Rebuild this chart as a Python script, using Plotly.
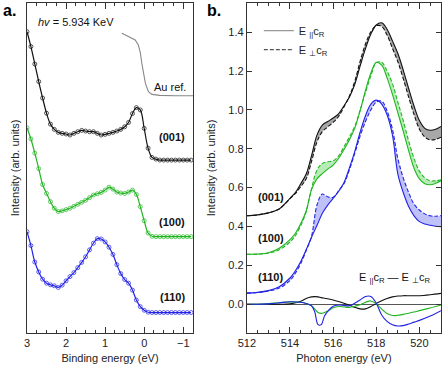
import plotly.graph_objects as go
from plotly.subplots import make_subplots

# ---- panel a: valence band spectra (binding energy, arb. units) ----
be = [3.0, 2.9, 2.8, 2.7, 2.6, 2.5, 2.4, 2.3, 2.2, 2.1, 2.0, 1.9, 1.8, 1.7, 1.6,
      1.5, 1.4, 1.3, 1.2, 1.1, 1.0, 0.9, 0.8, 0.7, 0.6, 0.5, 0.4, 0.3, 0.2, 0.1,
      0.0, -0.1, -0.2, -0.3, -0.4, -0.5, -0.6, -0.7, -0.8, -0.9, -1.0, -1.1, -1.2]
vb_001 = [9.13, 8.68, 8.15, 7.62, 7.12, 6.66, 6.33, 6.17, 6.08, 6.05, 6.03, 6.0, 6.05,
          6.1, 6.14, 6.12, 6.1, 6.1, 6.05, 6.0, 6.02, 6.05, 6.08, 6.12, 6.17, 6.25,
          6.38, 6.65, 6.83, 6.76, 6.2, 5.6, 5.32, 5.27, 5.24, 5.24, 5.24, 5.24, 5.24,
          5.24, 5.24, 5.24, 5.24]
vb_100 = [6.22, 5.88, 5.45, 4.98, 4.5, 4.23, 3.98, 3.78, 3.68, 3.7, 3.74, 3.78, 3.84,
          3.9, 3.96, 4.02, 4.1, 4.18, 4.22, 4.26, 4.33, 4.42, 4.36, 4.27, 4.24, 4.23,
          4.27, 4.33, 4.2, 3.83, 3.4, 3.03, 2.93, 2.92, 2.92, 2.92, 2.92, 2.92, 2.92,
          2.92, 2.92, 2.92, 2.92]
vb_110 = [3.07, 2.65, 2.15, 1.85, 1.63, 1.51, 1.46, 1.43, 1.38, 1.45, 1.58, 1.71, 1.83,
          1.98, 2.14, 2.31, 2.52, 2.72, 2.86, 2.85, 2.76, 2.6, 2.38, 2.07, 1.8, 1.62,
          1.51, 1.3, 1.0, 0.8, 0.69, 0.63, 0.62, 0.62, 0.62, 0.62, 0.62, 0.62, 0.62,
          0.62, 0.62, 0.62, 0.62]
au_be = [0.57, 0.4, 0.23, 0.15, 0.1, 0.06, 0.0, -0.03, -0.08, -0.11, -0.2, -0.4, -0.8, -1.25]
au_ref = [9.08, 8.98, 8.88, 8.73, 8.5, 8.17, 7.8, 7.57, 7.4, 7.31, 7.23, 7.2, 7.19, 7.19]

# ---- panel b: XAS, E||c (solid) and E_|_c (dashed) ----
ev = [512, 512.5, 513, 513.5, 514, 514.25, 514.5, 514.75, 515, 515.25, 515.5, 515.75,
      516, 516.25, 516.5, 516.75, 517, 517.25, 517.5, 517.75, 518, 518.25, 518.5,
      518.75, 519, 519.25, 519.5, 519.75, 520, 520.25, 520.5, 520.75, 521]
par_001 = [0.455, 0.46, 0.47, 0.49, 0.545, 0.575, 0.62, 0.67, 0.765, 0.87, 0.922, 0.94,
           0.958, 0.98, 1.02, 1.065, 1.13, 1.225, 1.315, 1.39, 1.437, 1.448, 1.415,
           1.355, 1.29, 1.205, 1.11, 1.02, 0.945, 0.905, 0.895, 0.9, 0.915]
per_001 = [0.455, 0.46, 0.47, 0.49, 0.543, 0.57, 0.605, 0.645, 0.735, 0.835, 0.888, 0.912,
           0.936, 0.966, 1.015, 1.07, 1.146, 1.249, 1.339, 1.402, 1.433, 1.43, 1.385,
           1.317, 1.248, 1.161, 1.066, 0.976, 0.901, 0.86, 0.846, 0.848, 0.86]
par_100 = [0.257, 0.258, 0.265, 0.288, 0.332, 0.365, 0.415, 0.48, 0.59, 0.645, 0.672,
           0.695, 0.716, 0.75, 0.795, 0.845, 0.905, 0.995, 1.1, 1.19, 1.245, 1.23, 1.165,
           1.08, 0.985, 0.89, 0.79, 0.7, 0.645, 0.62, 0.615, 0.622, 0.635]
per_100 = [0.257, 0.258, 0.262, 0.28, 0.32, 0.353, 0.405, 0.476, 0.595, 0.69, 0.725,
           0.733, 0.738, 0.763, 0.81, 0.86, 0.915, 0.998, 1.09, 1.175, 1.243, 1.245, 1.2,
           1.135, 1.04, 0.945, 0.84, 0.75, 0.685, 0.65, 0.635, 0.635, 0.64]
par_110 = [0.057, 0.061, 0.07, 0.09, 0.135, 0.172, 0.22, 0.28, 0.345, 0.405, 0.468, 0.51,
           0.545, 0.58, 0.625, 0.7, 0.785, 0.885, 0.97, 1.03, 1.05, 1.03, 0.975, 0.87,
           0.67, 0.575, 0.503, 0.455, 0.425, 0.413, 0.406, 0.401, 0.399]
per_110 = [0.057, 0.061, 0.068, 0.083, 0.122, 0.16, 0.21, 0.276, 0.35, 0.51, 0.567, 0.553,
           0.55, 0.583, 0.62, 0.69, 0.775, 0.865, 0.94, 1.0, 1.04, 1.045, 0.995, 0.9,
           0.75, 0.65, 0.575, 0.515, 0.485, 0.465, 0.455, 0.453, 0.456]

# difference spectra E||c - E_|_c
ev_d = [512, 512.5, 513, 513.5, 514, 514.5, 514.75, 515, 515.15, 515.3, 515.45, 515.6,
        515.8, 516, 516.25, 516.5, 516.75, 517, 517.25, 517.5, 517.75, 518, 518.25,
        518.5, 518.75, 519, 519.25, 519.5, 519.75, 520, 520.5, 521]
d_001 = [0, 0, 0, 0, 0.002, 0.015, 0.03, 0.038, 0.039, 0.038, 0.034, 0.031, 0.027, 0.022,
         0.014, 0.005, -0.005, -0.016, -0.024, -0.024, -0.012, 0.004, 0.018, 0.03, 0.038,
         0.042, 0.044, 0.044, 0.044, 0.044, 0.049, 0.056]
d_100 = [0, 0, 0.003, 0.008, 0.012, 0.01, 0.004, -0.008, -0.025, -0.043, -0.047, -0.042,
         -0.032, -0.018, -0.012, -0.014, -0.016, -0.01, -0.003, 0.01, 0.017, 0.002, -0.025,
         -0.048, -0.058, -0.057, -0.052, -0.046, -0.04, -0.033, -0.019, -0.004]
d_110 = [0, 0, 0.002, 0.007, 0.013, 0.01, 0.004, -0.008, -0.04, -0.105, -0.105, -0.06,
         -0.03, -0.01, -0.004, -0.006, -0.008, 0.005, 0.022, 0.04, 0.04, 0.005, -0.055,
         -0.088, -0.105, -0.112, -0.11, -0.102, -0.092, -0.083, -0.061, -0.033]

BLACK = '#111111'
GREEN = '#22b522'
BLUE = '#2222e6'
FONT = 'Arial, Liberation Sans, sans-serif'
DASH = '4px,2px'

fig = make_subplots(rows=1, cols=2, horizontal_spacing=0.13)

# panel a
for vals, col in [(vb_001, BLACK), (vb_100, GREEN), (vb_110, BLUE)]:
    fig.add_trace(go.Scatter(x=be, y=vals, mode='lines+markers',
                             line=dict(color=col, width=1.2, shape='spline'),
                             marker=dict(symbol='circle-open', size=4, color=col, line=dict(width=0.7)),
                             showlegend=False), row=1, col=1)
fig.add_trace(go.Scatter(x=au_be, y=au_ref, mode='lines', line=dict(color='#888888', width=1.1),
                         showlegend=False), row=1, col=1)

# panel b
bands = [(par_001, per_001, BLACK, 'rgba(110,110,110,0.6)'),
         (par_100, per_100, GREEN, 'rgba(110,220,110,0.5)'),
         (par_110, per_110, BLUE, 'rgba(110,120,240,0.45)')]
for par, per, col, fcol in bands:
    fig.add_trace(go.Scatter(x=ev, y=per, mode='lines',
                             line=dict(color=col, width=1.1, dash=DASH, shape='spline'),
                             showlegend=False), row=1, col=2)
    fig.add_trace(go.Scatter(x=ev, y=par, mode='lines', fill='tonexty', fillcolor=fcol,
                             line=dict(color=col, width=1.1, shape='spline'),
                             showlegend=False), row=1, col=2)
for d, col in [(d_001, BLACK), (d_100, GREEN), (d_110, BLUE)]:
    fig.add_trace(go.Scatter(x=ev_d, y=d, mode='lines', line=dict(color=col, width=1.1, shape='spline'),
                             showlegend=False), row=1, col=2)

# legend entries
fig.add_trace(go.Scatter(x=[None], y=[None], mode='lines', line=dict(color='#999999', width=1.2),
                         name='E <sub>||</sub>c<sub>R</sub>'), row=1, col=2)
fig.add_trace(go.Scatter(x=[None], y=[None], mode='lines', line=dict(color='#555555', width=1.2, dash=DASH),
                         name='E <sub>\u22a5</sub>c<sub>R</sub>'), row=1, col=2)

axis_common = dict(showline=True, linecolor='#333333', linewidth=1, mirror=True,
                   showgrid=False, zeroline=False, tickfont=dict(size=11, color='#222'))

fig.update_xaxes(axis_common)
fig.update_yaxes(axis_common)

fig.update_xaxes(domain=[0, 0.401], range=[3.0, -1.25], dtick=1, ticks='inside', ticklen=6,
                 mirror='ticks', minor=dict(dtick=0.25, ticks='inside', ticklen=3), tickcolor='#333',
                 title=dict(text='Binding energy (eV)', font=dict(size=11), standoff=6),
                 row=1, col=1)
fig.update_yaxes(range=[0, 10], showticklabels=False, ticks='',
                 title=dict(text='Intensity (arb. units)', font=dict(size=11), standoff=4),
                 row=1, col=1)
fig.update_xaxes(domain=[0.531, 1], range=[512, 521], dtick=2, ticks='inside', ticklen=6,
                 mirror='ticks', minor=dict(dtick=0.5, ticks='inside', ticklen=3), tickcolor='#333',
                 title=dict(text='Photon energy (eV)', font=dict(size=11), standoff=6),
                 row=1, col=2)
fig.update_yaxes(range=[-0.148, 1.55], dtick=0.2, tickformat='.1f', ticks='inside', ticklen=5,
                 mirror='ticks', tickcolor='#333', zeroline=True, zerolinecolor='#555555',
                 zerolinewidth=1,
                 title=dict(text='Intensity (arb. units)', font=dict(size=11), standoff=10),
                 row=1, col=2)

ann = [
    dict(xref='x', yref='y', x=2.78, y=9.42, text='<i>hv</i> = 5.934 KeV', xanchor='left'),
    dict(xref='x', yref='y', x=-1.13, y=7.45, text='Au ref.', xanchor='right'),
    dict(xref='x', yref='y', x=-1.1, y=5.94, text='<b>(001)</b>', xanchor='right'),
    dict(xref='x', yref='y', x=-1.1, y=3.37, text='<b>(100)</b>', xanchor='right'),
    dict(xref='x', yref='y', x=-1.1, y=1.09, text='<b>(110)</b>', xanchor='right'),
    dict(xref='x2', yref='y2', x=512.43, y=0.553, text='<b>(001)</b>', xanchor='left'),
    dict(xref='x2', yref='y2', x=512.43, y=0.341, text='<b>(100)</b>', xanchor='left'),
    dict(xref='x2', yref='y2', x=512.43, y=0.142, text='<b>(110)</b>', xanchor='left'),
    dict(xref='x2', yref='y2', x=517.1, y=0.135,
         text='E <sub>||</sub>c<sub>R</sub> \u2014 E <sub>\u22a5</sub>c<sub>R</sub>', xanchor='left'),
    dict(xref='paper', yref='paper', x=-0.064, y=1.008, text='<b>a.</b>', xanchor='left',
         yanchor='top', font=dict(size=16, color='#000')),
    dict(xref='paper', yref='paper', x=0.43, y=1.008, text='<b>b.</b>', xanchor='left',
         yanchor='top', font=dict(size=16, color='#000')),
]
for a in ann:
    a.setdefault('font', dict(size=11, color='#111'))
    a['showarrow'] = False
fig.update_layout(annotations=ann)

fig.update_layout(
    width=443, height=373,
    margin=dict(l=27, r=2, t=3, b=40),
    plot_bgcolor='white', paper_bgcolor='white',
    font=dict(family=FONT, size=11, color='#222'),
    showlegend=True,
    legend=dict(x=0.56, y=0.96, xanchor='left', yanchor='top', bgcolor='rgba(0,0,0,0)',
                font=dict(size=11), tracegroupgap=0, itemwidth=30, traceorder='normal'),
)

fig.write_html("out.html", config={'displayModeBar': False},
               post_script="document.body.style.margin='0';")
